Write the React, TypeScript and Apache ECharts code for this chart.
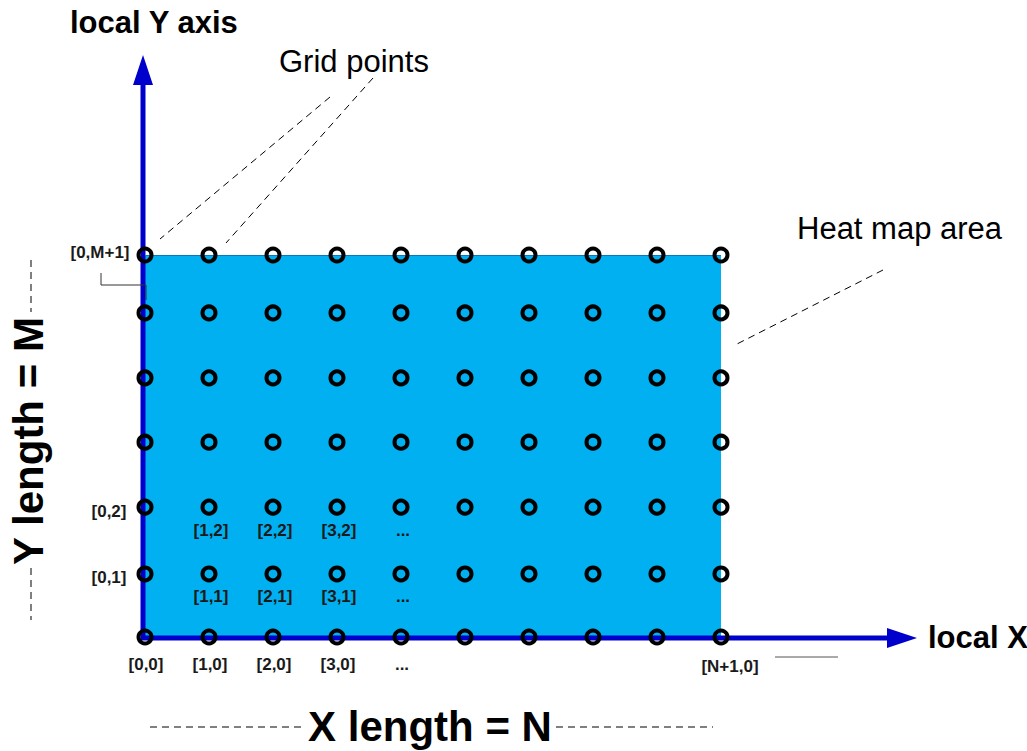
import React, { useEffect, useRef } from "react";
import * as echarts from "echarts";

// grid point columns (local X index) and rows (local Y index, as placed in the picture)
const xCols = [0, 1, 2, 3, 4, 5, 6, 7, 8, 9];
const yRows = [0, 0.99, 2.04, 3.06, 4.07, 5.09, 6];

// point labels: text, column index, row index, kind
const pointLabels = [
  { text: "[0,0]", col: 0, row: 0, kind: "below0" },
  { text: "[1,0]", col: 1, row: 0, kind: "below0" },
  { text: "[2,0]", col: 2, row: 0, kind: "below0" },
  { text: "[3,0]", col: 3, row: 0, kind: "below0" },
  { text: "...", col: 4, row: 0, kind: "below0" },
  { text: "[N+1,0]", col: 9, row: 0, kind: "belowRight" },
  { text: "[1,1]", col: 1, row: 1, kind: "below" },
  { text: "[2,1]", col: 2, row: 1, kind: "below" },
  { text: "[3,1]", col: 3, row: 1, kind: "below" },
  { text: "...", col: 4, row: 1, kind: "below" },
  { text: "[1,2]", col: 1, row: 2, kind: "below" },
  { text: "[2,2]", col: 2, row: 2, kind: "below" },
  { text: "[3,2]", col: 3, row: 2, kind: "below" },
  { text: "...", col: 4, row: 2, kind: "below" },
  { text: "[0,1]", col: 0, row: 1, kind: "left" },
  { text: "[0,2]", col: 0, row: 2, kind: "left" },
  { text: "[0,M+1]", col: 0, row: 6, kind: "leftTop" },
];

const FONT = "'Liberation Sans', Arial, Helvetica, sans-serif";

const offsets: Record<string, number[]> = {
  below0: [1, 27],
  belowRight: [9, 29],
  below: [2, 23],
  left: [-36, 4],
  leftTop: [-45, -3],
};

export default function App() {
  const ref = useRef<HTMLDivElement>(null);

  useEffect(() => {
    if (!ref.current) return;
    const chart = echarts.init(ref.current, null, { renderer: "svg" });

    const points: number[][] = [];
    yRows.forEach((r) => xCols.forEach((c) => points.push([c, r])));

    const labelData = pointLabels.map((p) => ({
      value: [xCols[p.col], yRows[p.row]],
      name: p.text,
      label: { offset: offsets[p.kind] },
    }));

    const dash = [7, 5];
    const black = "#000";

    chart.setOption({
      animation: false,
      backgroundColor: "#fff",
      grid: { left: 145, top: 255, width: 576, height: 382, show: false },
      xAxis: { type: "value", min: 0, max: 9, show: false },
      yAxis: { type: "value", min: 0, max: 6, show: false },
      series: [
        {
          type: "scatter",
          z: 1,
          data: [],
          silent: true,
          markArea: {
            silent: true,
            itemStyle: { color: "#00B0F0", opacity: 1 },
            data: [[{ coord: [xCols[0], yRows[0]] }, { coord: [xCols[xCols.length - 1], yRows[yRows.length - 1]] }]],
          },
          markLine: {
            silent: true,
            symbol: "none",
            label: { show: false },
            lineStyle: { color: "#0a78c0", width: 1, type: "solid", opacity: 1 },
            data: [[{ coord: [xCols[0], yRows[yRows.length - 1]] }, { coord: [xCols[xCols.length - 1], yRows[yRows.length - 1]] }]],
          },
        },
        {
          type: "scatter",
          z: 10,
          silent: true,
          symbol: "circle",
          symbolSize: 13,
          itemStyle: { color: "rgba(0,0,0,0)", borderColor: "#000", borderWidth: 4, opacity: 1 },
          data: points,
        },
        {
          type: "scatter",
          z: 10,
          silent: true,
          symbolSize: 0,
          itemStyle: { opacity: 1 },
          data: labelData,
          label: {
            show: true,
            position: "inside",
            formatter: "{b}",
            color: "#1a1a1a",
            fontFamily: FONT,
            fontWeight: "bold",
            fontSize: 17,
          },
        },
      ],
      graphic: [
        // local Y axis arrow
        { type: "line", z: 5, shape: { x1: 143, y1: 640, x2: 143, y2: 84 }, style: { stroke: "#0000CC", lineWidth: 5 } },
        { type: "polygon", z: 5, shape: { points: [[143, 55], [133, 85], [153, 85]] }, style: { fill: "#0000CC" } },
        // local X axis arrow
        { type: "line", z: 5, shape: { x1: 141, y1: 638, x2: 888, y2: 638 }, style: { stroke: "#0000CC", lineWidth: 5 } },
        { type: "polygon", z: 5, shape: { points: [[917, 638], [887, 628], [887, 648]] }, style: { fill: "#0000CC" } },
        // titles
        { type: "text", x: 70, y: 22, style: { text: "local Y axis", fontFamily: FONT, fontWeight: "bold", fontSize: 31, fill: black, verticalAlign: "middle" } },
        { type: "text", x: 928, y: 637, style: { text: "local X axis", fontFamily: FONT, fontWeight: "bold", fontSize: 31, fill: black, verticalAlign: "middle" } },
        { type: "text", x: 279, y: 61, style: { text: "Grid points", fontFamily: FONT, fontSize: 31, fill: black, verticalAlign: "middle" } },
        { type: "text", x: 797, y: 228, style: { text: "Heat map area", fontFamily: FONT, fontSize: 31, fill: black, verticalAlign: "middle" } },
        { type: "text", x: 430, y: 726, style: { text: "X length = N", fontFamily: FONT, fontWeight: "bold", fontSize: 42, fill: black, align: "center", verticalAlign: "middle" } },
        { type: "text", x: 28, y: 441, rotation: Math.PI / 2, style: { text: "Y length = M", fontFamily: FONT, fontWeight: "bold", fontSize: 42, fill: black, align: "center", verticalAlign: "middle" } },
        // leader lines
        { type: "line", shape: { x1: 330, y1: 97, x2: 160, y2: 239 }, style: { stroke: black, lineWidth: 1, lineDash: dash } },
        { type: "line", shape: { x1: 373, y1: 78, x2: 226, y2: 243 }, style: { stroke: black, lineWidth: 1, lineDash: dash } },
        { type: "line", shape: { x1: 883, y1: 270, x2: 737, y2: 344 }, style: { stroke: black, lineWidth: 1, lineDash: dash } },
        { type: "polyline", z: 6, shape: { points: [[101, 273], [101, 285], [146, 285], [146, 300]] }, style: { stroke: "#333", lineWidth: 1, fill: "none" } },
        { type: "line", shape: { x1: 775, y1: 657, x2: 838, y2: 657 }, style: { stroke: "#555", lineWidth: 1 } },
        // length dimension dashes
        { type: "line", shape: { x1: 31, y1: 260, x2: 31, y2: 312 }, style: { stroke: black, lineWidth: 1, lineDash: dash } },
        { type: "line", shape: { x1: 31, y1: 568, x2: 31, y2: 620 }, style: { stroke: black, lineWidth: 1, lineDash: dash } },
        { type: "line", shape: { x1: 150, y1: 727, x2: 304, y2: 727 }, style: { stroke: black, lineWidth: 1, lineDash: dash } },
        { type: "line", shape: { x1: 556, y1: 727, x2: 713, y2: 727 }, style: { stroke: black, lineWidth: 1, lineDash: dash } },
      ],
    });

    return () => chart.dispose();
  }, []);

  return <div ref={ref} style={{ position: "fixed", left: 0, top: 0, width: 1027, height: 751 }} />;
}
